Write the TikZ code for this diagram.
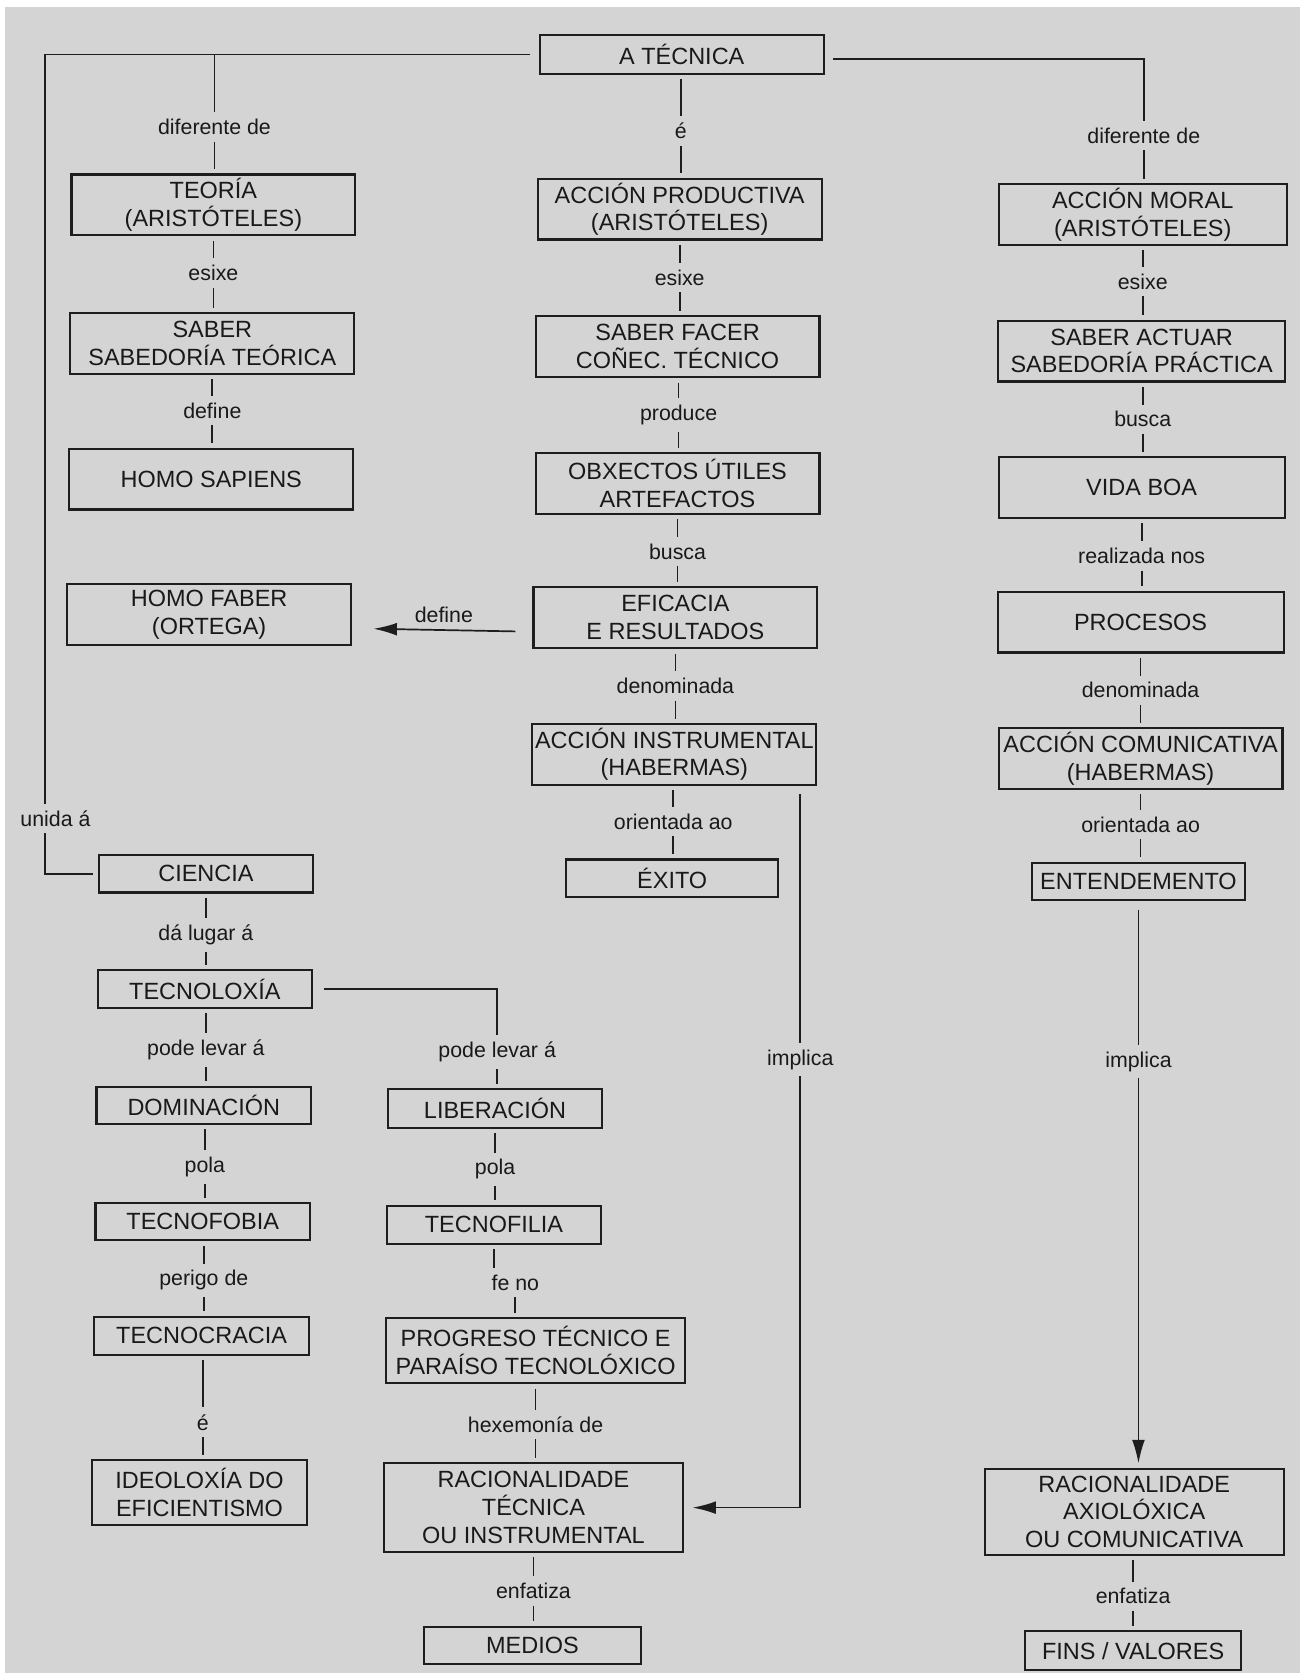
\documentclass[tikz,border=0pt]{standalone}
\usepackage{fontspec}
\setmainfont{Liberation Sans}
\usetikzlibrary{arrows.meta}
\definecolor{bgc}{RGB}{212,212,212}
\definecolor{linec}{RGB}{30,30,30}
\begin{document}
\begin{tikzpicture}[x=0.5pt,y=-0.5pt]
    \tikzstyle{mbox}=[draw=linec, line width=1pt, align=center, font=\fontsize{11}{13}\selectfont, inner xsep=1pt, inner ysep=0pt, outer sep=2.5pt, minimum width=133pt, minimum height=28.5pt, text=black!90]
    \tikzstyle{sbox}=[mbox, minimum width=100.5pt, minimum height=17.5pt]
    \tikzstyle{bbox}=[mbox, minimum width=140pt, minimum height=41pt]
    \tikzstyle{mlbl}=[font=\fontsize{10}{12}\selectfont, inner sep=3pt, text=black!90]
    \tikzstyle{mlin}=[line width=0.8pt, draw=linec]
    \tikzstyle{marrs}=[mlin, -{Latex[length=11pt,width=6pt]}]

    \useasboundingbox (0,0) rectangle (1225,1568);
    \fill[bgc] (5,6.5) rectangle (1218,1568);

    % top
    \node[mbox, minimum height=18.5pt] (tecnica) at (639,51) {A TÉCNICA};

    % left column
    \node[mbox] (teoria)  at (200,192) {TEORÍA\\(ARISTÓTELES)};
    \node[mbox] (saberT)  at (199,322) {SABER\\SABEDORÍA TEÓRICA};
    \node[mbox] (sapiens) at (198,449) {HOMO SAPIENS};
    \node[mbox] (faber)   at (196,576) {HOMO FABER\\(ORTEGA)};

    % middle column
    \node[mbox] (produtiva)    at (637,196) {ACCIÓN PRODUCTIVA\\(ARISTÓTELES)};
    \node[mbox] (facer)        at (635,325) {SABER FACER\\COÑEC. TÉCNICO};
    \node[mbox] (obxectos)     at (635,453) {OBXECTOS ÚTILES\\ARTEFACTOS};
    \node[mbox] (eficacia)     at (633,579) {EFICACIA\\E RESULTADOS};
    \node[mbox] (instrumental) at (632,707) {ACCIÓN INSTRUMENTAL\\(HABERMAS)};
    \node[sbox, minimum width=99.5pt] (exito) at (630,823) {ÉXITO};

    % right column
    \node[mbox, minimum width=135pt] (moral)  at (1071,201) {ACCIÓN MORAL\\(ARISTÓTELES)};
    \node[mbox, minimum width=134.5pt] (actuar) at (1070,329) {SABER ACTUAR\\SABEDORÍA PRÁCTICA};
    \node[mbox, minimum width=134pt] (vidaboa)  at (1070,457) {VIDA BOA};
    \node[mbox, minimum width=134pt] (procesos) at (1069,583) {PROCESOS};
    \node[mbox] (comunicativa) at (1069,711) {ACCIÓN COMUNICATIVA\\(HABERMAS)};
    \node[sbox, minimum width=99.5pt] (entendemento) at (1067,826) {ENTENDEMENTO};
    \node[bbox, minimum height=40.5pt] (axioloxica) at (1063,1417) {RACIONALIDADE\\AXIOLÓXICA\\OU COMUNICATIVA};
    \node[sbox, minimum width=101.5pt, minimum height=18pt] (fins) at (1062,1547) {FINS / VALORES};

    % lower left
    \node[sbox] (ciencia)     at (193,819)  {CIENCIA};
    \node[sbox] (tecnoloxia)  at (192,927)  {TECNOLOXÍA};
    \node[sbox] (dominacion)  at (191,1036) {DOMINACIÓN};
    \node[sbox] (tecnofobia)  at (190,1145) {TECNOFOBIA};
    \node[sbox, minimum height=18pt] (tecnocracia) at (189,1252) {TECNOCRACIA};
    \node[sbox, minimum height=30.5pt] (ideoloxia) at (187,1399) {IDEOLOXÍA DO\\EFICIENTISMO};

    % lower middle
    \node[sbox, minimum height=18pt] (liberacion) at (464,1039) {LIBERACIÓN};
    \node[sbox, minimum height=18pt] (tecnofilia) at (463,1148) {TECNOFILIA};
    \node[bbox, minimum height=30.5pt] (progreso)   at (502,1266) {PROGRESO TÉCNICO E\\PARAÍSO TECNOLÓXICO};
    \node[bbox, minimum height=41.5pt] (racTecnica) at (500,1413) {RACIONALIDADE\\TÉCNICA\\OU INSTRUMENTAL};
    \node[sbox, minimum width=102pt] (medios) at (499,1542) {MEDIOS};

    % link words
    \foreach \n/\x/\y/\t in {dif1/201/119/diferente de, e1/638/123/é, dif2/1072/127/diferente de,
        esx1/200/256/esixe, esx2/637/260/esixe, esx3/1071/264/esixe,
        def1/199/385/define, prod/636/389/produce, bus1/1071/393/busca,
        bus2/635/517/busca, real/1070/521/realizada nos, def2/416/576/define,
        den1/633/643/denominada, den2/1069/647/denominada,
        ori1/631/770/orientada ao, ori2/1069/773/orientada ao, unida/52/767/unida á,
        dal/193/876/dá lugar á, pod1/193/984/pode levar á, pod2/466/986/pode levar á,
        imp1/750/993/implica, imp2/1067/995/implica, pol1/192/1094/pola, pol2/464/1096/pola,
        per/191/1200/perigo de, feno/483/1202/fe no, e2/190/1333/é, hex/502/1335/hexemonía de,
        enf1/500/1491/enfatiza, enf2/1062/1496/enfatiza} {
        \node[mlbl] (\n) at (\x,\y) {\t};
    }
    \coordinate (lft) at (42,0);

    % straight links
    \foreach \a/\l/\b in {teoria/esx1/saberT, saberT/def1/sapiens, tecnica/e1/produtiva,
        produtiva/esx2/facer, facer/prod/obxectos, obxectos/bus2/eficacia,
        eficacia/den1/instrumental, instrumental/ori1/exito, moral/esx3/actuar,
        actuar/bus1/vidaboa, vidaboa/real/procesos, procesos/den2/comunicativa,
        comunicativa/ori2/entendemento, ciencia/dal/tecnoloxia, tecnoloxia/pod1/dominacion,
        dominacion/pol1/tecnofobia, tecnofobia/per/tecnocracia, tecnocracia/e2/ideoloxia,
        liberacion/pol2/tecnofilia, progreso/hex/racTecnica, racTecnica/enf1/medios,
        axioloxica/enf2/fins} {
        \draw[mlin] (\l |- \a.south) -- (\l.north);
        \draw[mlin] (\l.south) -- (\l |- \b.north);
    }

    % branches
    \draw[mlin, shorten <=2pt] (tecnica.west) -| (lft |- unida.north);
    \draw[mlin] (lft |- unida.south) |- (ciencia.west);
    \draw[mlin] (dif1 |- tecnica.west) -- (dif1.north);
    \draw[mlin] (dif1.south) -- (dif1 |- teoria.north);
    \draw[mlin, shorten <=2pt] ([yshift=-2pt]tecnica.east) -| (dif2.north);
    \draw[mlin] (dif2.south) -- (dif2 |- moral.north);
    \draw[mlin, shorten <=3pt] (tecnoloxia.east) -| (pod2.north);
    \draw[mlin] (pod2.south) -- (pod2 |- liberacion.north);
    \draw[mlin] (tecnofilia.south) -- (tecnofilia.south |- feno.north);
    \draw[mlin] (feno.south) -- (feno |- progreso.north);

    % arrows
    \draw[marrs, shorten <=6pt, shorten >=8pt] ([yshift=-6.5pt]eficacia.west) -- ([yshift=-6.5pt]faber.east);
    \draw[mlin, shorten <=2pt] (imp1 |- instrumental.south) -- (imp1.north);
    \draw[marrs, shorten >=2pt] (imp1.south) |- (racTecnica.east);
    \draw[mlin, shorten <=2pt] (imp2 |- entendemento.south) -- (imp2.north);
    \draw[marrs] (imp2.south) -- (imp2 |- axioloxica.north);
\end{tikzpicture}
\end{document}
